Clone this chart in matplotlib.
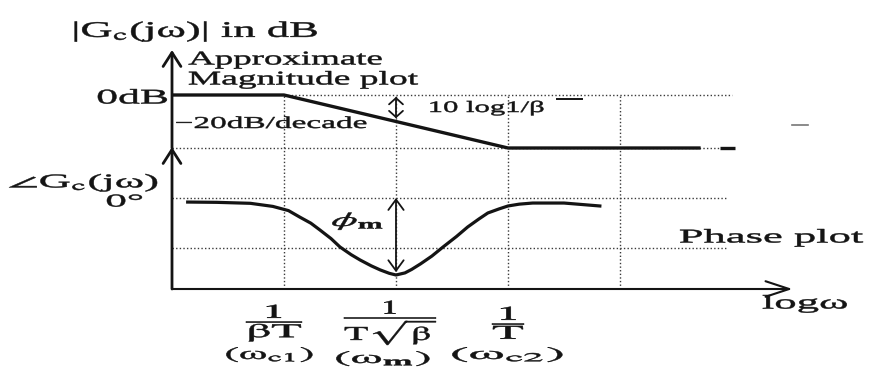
import matplotlib
matplotlib.use("Agg")
import matplotlib.pyplot as plt
from matplotlib.patheffects import AbstractPathEffect
from matplotlib.transforms import Affine2D

plt.rcParams["font.family"] = ["Liberation Serif", "DejaVu Serif"]
plt.rcParams["mathtext.fontset"] = "stix"

# frequency axis in decades, measured from 1/(beta T)  (beta = 10 here)
corner_u = [0.0, 0.5, 1.0, 1.5]
corner_fracs = [r"$\dfrac{1}{\mathrm{\beta T}}$",
                r"$\dfrac{1}{\mathrm{T}\sqrt{\mathrm{\beta}}}$",
                r"$\dfrac{1}{\mathrm{T}}$"]
corner_names = [r"$(\mathrm{\omega}_{\mathrm{c1}})$", r"$(\mathrm{\omega}_{\mathbf{m}})$",
                r"$(\mathrm{\omega}_{\mathrm{c2}})$"]

# asymptotic magnitude (dB)
mag_u = [-0.5, 0.0, 1.0, 1.86]
mag_db = [0, 0, -20, -20]

# phase curve (degrees)
phase_u = [-0.43, -0.30, -0.15, -0.05, 0.02, 0.07, 0.12, 0.16, 0.21, 0.25, 0.30,
           0.34, 0.39, 0.43, 0.47, 0.50, 0.54, 0.57, 0.61, 0.66, 0.71, 0.77,
           0.82, 0.87, 0.91, 0.96, 1.00, 1.05, 1.11, 1.25, 1.41]
phase_deg = [-2.9, -3.1, -3.8, -6.0, -9.0, -13.6, -18.0, -22.8, -29.0, -35.0, -40.5,
             -44.3, -48.5, -51.4, -53.8, -55.0, -53.5, -51.0, -47.0, -41.5, -35.0, -27.5,
             -20.7, -15.0, -10.7, -7.8, -5.7, -4.4, -3.6, -3.6, -5.7]
phase_max = -55.0      # phi_m
phase_mid = -35.7      # second dotted level
x_end = 2.27           # arrow tip of log(omega) axis

W, H = 869, 369
INK = "#141414"
GRID = "#3a3a3a"

# pixel layout of the sketch
U0, PXU = 284, 224          # px of u=0, px per decade
DB0, PXDB = 95, 2.65        # px of 0 dB, px per dB
PH0, PXPH = 198, 1.4        # px of 0 deg, px per degree
SPLIT = 148                 # px where magnitude and phase parts meet


class FitWidth(AbstractPathEffect):
    """widen the glyphs to a given ink width (the scan is stretched sideways)"""
    def __init__(self, width_px, stroke=0.35):
        super().__init__()
        self.width_px = width_px
        self.stroke = stroke

    def draw_path(self, renderer, gc, tpath, affine, rgbFace=None):
        ext = tpath.get_extents()
        scale = affine.get_matrix()[0, 0]
        target = self.width_px * renderer.points_to_pixels(72.0) / 100.0
        sx = target / max(ext.width * scale, 1e-6)
        cx = (ext.x0 + ext.x1) / 2
        t = Affine2D().translate(-cx, 0).scale(sx, 1).translate(cx, 0) + affine
        gc0 = renderer.new_gc()
        gc0.copy_properties(gc)
        gc0.set_linewidth(self.stroke)
        gc0.set_foreground(rgbFace)
        renderer.draw_path(gc0, tpath, t, rgbFace)
        gc0.restore()


fig = plt.figure(figsize=(W / 100, H / 100), dpi=100)
xl = (-U0 / PXU, (W - U0) / PXU)

ax_m = fig.add_axes([0, 1 - SPLIT / H, 1, SPLIT / H])
ax_m.set_xlim(*xl)
ax_m.set_ylim(-20, DB0 / PXDB)
ax_p = fig.add_axes([0, 0, 1, 1 - SPLIT / H])
ax_p.set_xlim(*xl)
ax_p.set_ylim(-(H - PH0) / PXPH, (PH0 - SPLIT) / PXPH)
for a in (ax_m, ax_p):
    a.axis("off")
    a.patch.set_alpha(0)

ph_top = (PH0 - SPLIT) / PXPH
ph_floor = -(289 - PH0) / PXPH
dots = dict(color=GRID, lw=1.0, ls=(0, (1, 1.6)), clip_on=False)

# dotted guide lines
ax_m.hlines(0, 0, 2.0, **dots)
ax_m.hlines(-20, -0.5, 1.99, **dots)
ax_p.hlines([0, phase_mid], -0.5, 1.98, **dots)
ax_m.vlines(corner_u, -20, 0, **dots)
ax_p.vlines(corner_u, ph_floor, ph_top, **dots)

# axes with arrow heads
arr = dict(arrowstyle="->, head_length=0.5, head_width=0.32", lw=2.0, color=INK,
           shrinkA=0, shrinkB=0, mutation_scale=20)
ax_m.annotate("", xy=(-0.5, (DB0 - 50) / PXDB), xytext=(-0.5, -20), arrowprops=arr,
              annotation_clip=False)
ax_p.annotate("", xy=(-0.5, ph_top + 0.7), xytext=(-0.5, ph_floor), arrowprops=arr,
              annotation_clip=False)
ax_p.annotate("", xy=(x_end, ph_floor), xytext=(-0.5, ph_floor),
              arrowprops=dict(arrowstyle="->, head_length=0.85, head_width=0.28", lw=1.5,
                              color=INK, shrinkA=0, shrinkB=0, mutation_scale=20),
              annotation_clip=False)

# magnitude asymptote + scan marks
ax_m.plot(mag_u, mag_db, color=INK, lw=2.4, solid_capstyle="butt", clip_on=False)
ax_m.plot([1.946, 2.013], [-20, -20], color=INK, lw=2.4, solid_capstyle="butt",
          clip_on=False)
ax_m.plot([1.22, 1.33], [-1.5, -1.5], color=INK, lw=1.4)
ax_m.plot([2.27, 2.34], [-11.3, -11.3], color="#777777", lw=1.2)

# 10 log 1/beta arrow
ax_m.annotate("", xy=(0.5, -0.7), xytext=(0.5, -8.8),
              arrowprops=dict(arrowstyle="<->, head_length=0.45, head_width=0.5", lw=1.3,
                              color=INK, shrinkA=0, shrinkB=0, mutation_scale=10))

# phase curve
ax_p.plot(phase_u, phase_deg, color=INK, lw=2.3)
ax_p.annotate("", xy=(0.5, 0), xytext=(0.5, phase_max + 2),
              arrowprops=dict(arrowstyle="<->, head_length=0.75, head_width=0.55", lw=1.3,
                              color=INK, shrinkA=0, shrinkB=0, mutation_scale=10))


def label(x0, x1, y, s, size):
    """text centred between x0 and x1 (px), widened to fill that span"""
    fig.text((x0 + x1) / 2 / W, 1 - y / H, s, fontsize=size, ha="center", va="center",
             color=INK, path_effects=[FitWidth(x1 - x0)])


label(75, 317, 32, r"|G$_\mathrm{c}$(jω)| in dB", 16)
label(189, 382, 60, "Approximate", 14)
label(189, 418, 80, "Magnitude plot", 14)
label(98, 167, 99, "0dB", 15)
label(176, 366, 124, "\u221220dB/decade", 12)
label(430, 543, 108, "10 log1/\u03b2", 11.5)
label(10, 158, 183, r"$\angle$G$_\mathrm{c}$(jω)", 14)
label(107, 142, 202, "0°", 13)
label(333, 383, 221, r"$\phi_{\mathbf{m}}$", 14)
label(680, 863, 238, "Phase plot", 14)
label(763, 847, 304, "logω", 14)

frac_span = [(247, 303), (345, 437), (493, 525)]
name_span = [(227, 313), (337, 430), (453, 563)]
name_y = [355, 359, 355]
for (f0, f1), (n0, n1), ny, f, n in zip(frac_span, name_span, name_y, corner_fracs, corner_names):
    label(f0, f1, 322, f, 14)
    label(n0, n1, ny, n, 12.5)

fig.savefig("out.png", dpi=100, facecolor="white")
